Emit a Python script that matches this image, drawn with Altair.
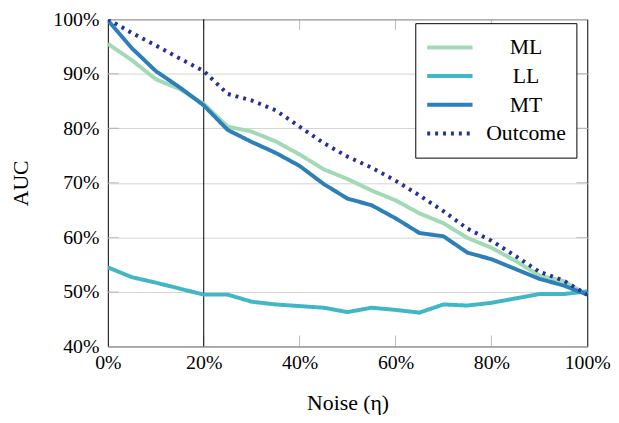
import altair as alt
import pandas as pd

noise = [i / 20 for i in range(21)]
series_names = ["ML", "LL", "MT", "Outcome"]
ml = [95.5, 92.5, 89.0, 87.2, 84.5, 80.3, 79.4, 77.6, 75.2, 72.5, 70.7, 68.6, 66.8, 64.4, 62.6, 59.9, 58.1, 55.7, 53.0, 52.0, 49.5]
ll = [54.5, 52.7, 51.7, 50.6, 49.5, 49.5, 48.2, 47.7, 47.4, 47.1, 46.3, 47.1, 46.7, 46.2, 47.7, 47.5, 48.0, 48.8, 49.6, 49.6, 50.1]
mt = [99.8, 94.7, 90.5, 87.5, 84.2, 79.7, 77.5, 75.5, 73.1, 69.8, 67.1, 65.9, 63.5, 60.8, 60.2, 57.2, 56.0, 54.2, 52.4, 51.2, 49.5]
outcome = [100.0, 97.5, 95.2, 92.8, 90.5, 86.3, 85.1, 83.3, 80.3, 77.3, 74.8, 72.8, 70.4, 67.7, 64.8, 61.6, 59.4, 56.6, 53.7, 52.1, 49.5]
colors = ["#a1dab4", "#41b6c4", "#2c7fb8", "#253494"]
dashes = [[1, 0], [1, 0], [1, 0], [3, 5]]
x_ticks = [0.2, 0.4, 0.6, 0.8]
y_ticks = [0.5, 0.6, 0.7, 0.8, 0.9]
marker_x = 0.2

rows = []
for name, vals in zip(series_names, [ml, ll, mt, outcome]):
    for x, v in zip(noise, vals):
        rows.append({"noise": x, "auc": v / 100, "series": name})
df = pd.DataFrame(rows)
xt = pd.DataFrame({"t": x_ticks})
yt = pd.DataFrame({"t": y_ticks})

FONT = "Liberation Serif"
xscale = alt.Scale(domain=[0, 1], nice=False)
yscale = alt.Scale(domain=[0.4, 1.0], nice=False)

xaxis = alt.Axis(format=".0%", values=[0, 0.2, 0.4, 0.6, 0.8, 1.0], grid=False, ticks=False,
                 domain=False, labelFontSize=20, labelPadding=6, titleFontSize=22,
                 titlePadding=21, labelFlush=False)
yaxis = alt.Axis(format=".0%", values=[0.4, 0.5, 0.6, 0.7, 0.8, 0.9, 1.0], grid=True, ticks=False,
                 domain=False, labelFontSize=20, labelPadding=9, titleFontSize=22,
                 titlePadding=21, gridColor="#d4d4d4", labelFlush=False)

lines = alt.Chart(df).mark_line(strokeWidth=4, clip=True).encode(
    x=alt.X("noise:Q", scale=xscale, axis=xaxis, title="Noise (η)"),
    y=alt.Y("auc:Q", scale=yscale, axis=yaxis, title="AUC"),
    color=alt.Color("series:N", scale=alt.Scale(domain=series_names, range=colors), title=None,
                    sort=series_names,
                    legend=alt.Legend(orient="none", legendX=311, legendY=4, symbolType="stroke",
                                      symbolSize=2100, symbolStrokeWidth=4, labelFontSize=22,
                                      strokeColor="black", fillColor="white", padding=10,
                                      rowPadding=0, clipHeight=29, labelAlign="center",
                                      labelOffset=52, cornerRadius=0)),
    strokeDash=alt.StrokeDash("series:N", scale=alt.Scale(domain=series_names, range=dashes),
                              title=None, sort=series_names),
    order=alt.Order("series_order:Q"),
).transform_calculate(
    series_order="indexof(['ML','LL','MT','Outcome'], datum.series)"
)

tick_style = dict(size=22, thickness=1, color="#a0a0a0", clip=True)
xticks_bottom = alt.Chart(xt).mark_tick(orient="vertical", **tick_style).encode(
    x=alt.X("t:Q", scale=xscale), y=alt.datum(0.4, scale=yscale))
xticks_top = alt.Chart(xt).mark_tick(orient="vertical", **tick_style).encode(
    x=alt.X("t:Q", scale=xscale), y=alt.datum(1.0, scale=yscale))
yticks_left = alt.Chart(yt).mark_tick(orient="horizontal", **tick_style).encode(
    y=alt.Y("t:Q", scale=yscale), x=alt.datum(0, scale=xscale))
yticks_right = alt.Chart(yt).mark_tick(orient="horizontal", **tick_style).encode(
    y=alt.Y("t:Q", scale=yscale), x=alt.datum(1, scale=xscale))
vline = alt.Chart(pd.DataFrame({"x": [marker_x]})).mark_rule(color="black", strokeWidth=1).encode(
    x=alt.X("x:Q", scale=xscale))

chart = alt.layer(xticks_bottom, xticks_top, yticks_left, yticks_right, vline, lines).properties(
    width=485, height=331,
    autosize=alt.AutoSizeParams(type="none"),
    padding={"left": 101, "top": 9, "right": 24, "bottom": 68},
).configure(font=FONT).configure_view(stroke="black", strokeWidth=1).configure_axis(
    labelColor="black", titleColor="black", labelFont=FONT, titleFont=FONT, titleFontWeight="normal"
).configure_legend(labelFont=FONT, labelColor="black")

chart.save("out.html", embed_options={"renderer": "svg", "actions": False})
